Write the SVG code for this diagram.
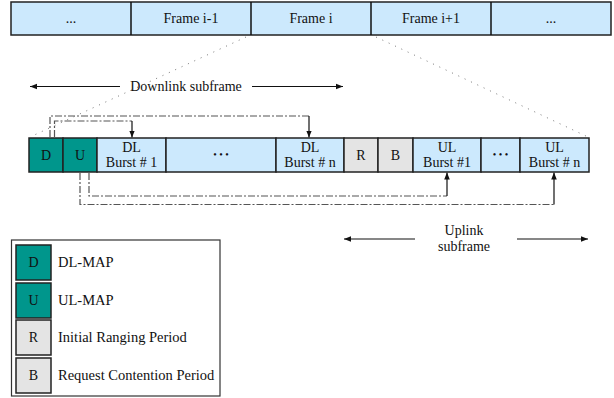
<svg xmlns="http://www.w3.org/2000/svg" width="614" height="398" viewBox="0 0 614 398">
<defs>
<style>
text{font-family:"Liberation Serif","Times New Roman",serif;font-size:14px;fill:#111;text-anchor:middle}
.blue{fill:#cce9fd;stroke:#222;stroke-width:1.5}
.teal{fill:#00968c;stroke:#222;stroke-width:1.5}
.grey{fill:#e4e4e4;stroke:#222;stroke-width:1.5}
.dd{fill:none;stroke:#555;stroke-width:1.2;stroke-dasharray:7,2,2,2}
.dot{fill:none;stroke:#777;stroke-width:1;stroke-dasharray:1,6}
.ln{fill:none;stroke:#111;stroke-width:1.2}
.lt{text-anchor:start}
.big{font-size:14.5px}
.bul{font-size:10px}
</style>
<marker id="ah" viewBox="0 0 10 10" refX="10" refY="5" markerWidth="7" markerHeight="7" orient="auto-start-reverse" markerUnits="userSpaceOnUse">
<path d="M0,1 L10,5 L0,9 z" fill="#111"/>
</marker>
</defs>

<g id="frames">
<rect class="blue" x="11" y="2" width="600" height="33"/>
<line class="ln" x1="131" y1="2" x2="131" y2="35" style="stroke-width:1.5"/>
<line class="ln" x1="251" y1="2" x2="251" y2="35" style="stroke-width:1.5"/>
<line class="ln" x1="371" y1="2" x2="371" y2="35" style="stroke-width:1.5"/>
<line class="ln" x1="491" y1="2" x2="491" y2="35" style="stroke-width:1.5"/>
<text x="71" y="23">...</text>
<text x="191" y="23">Frame i-1</text>
<text x="311" y="23">Frame i</text>
<text x="431" y="23">Frame i+1</text>
<text x="551" y="23">...</text>
</g>

<g id="connectors">
<line class="dot" x1="246" y1="37" x2="30" y2="137"/>
<line class="dot" x1="376" y1="37" x2="588" y2="137"/>
<line class="ln" x1="120" y1="86.5" x2="30" y2="86.5" marker-end="url(#ah)"/>
<line class="ln" x1="252" y1="86.5" x2="343" y2="86.5" marker-end="url(#ah)"/>
<line class="ln" x1="415" y1="239" x2="344" y2="239" marker-end="url(#ah)"/>
<line class="ln" x1="517" y1="239" x2="588" y2="239" marker-end="url(#ah)"/>
<polyline class="dd" points="50,137 50,116 309,116"/>
<line class="ln" x1="309" y1="116" x2="309" y2="137.5" marker-end="url(#ah)"/>
<polyline class="dd" points="54.5,137 54.5,121 132,121"/>
<line class="ln" x1="132" y1="121" x2="132" y2="137.5" marker-end="url(#ah)"/>
<polyline class="dd" points="89,173 89,196 447,196"/>
<line class="ln" x1="447" y1="196" x2="447" y2="172.5" marker-end="url(#ah)"/>
<polyline class="dd" points="80,173 80,204.5 554,204.5"/>
<line class="ln" x1="554" y1="204.5" x2="554" y2="172.5" marker-end="url(#ah)"/>
</g>

<g id="labels">
<text x="186" y="91">Downlink subframe</text>
<text x="464" y="235">Uplink</text>
<text x="464" y="251">subframe</text>
</g>

<g id="node-D"><rect class="teal" x="29" y="138" width="34" height="34"/><text x="46" y="160">D</text></g>
<g id="node-U"><rect class="teal" x="63" y="138" width="34" height="34"/><text x="80" y="160">U</text></g>
<g id="node-DL1"><rect class="blue" x="97" y="138" width="69" height="34"/><text x="131.5" y="152">DL</text><text x="131.5" y="167">Burst # 1</text></g>
<g id="node-DLdots"><rect class="blue" x="166" y="138" width="110" height="34"/><text class="bul" x="221" y="158">• • •</text></g>
<g id="node-DLn"><rect class="blue" x="276" y="138" width="68" height="34"/><text x="310" y="152">DL</text><text x="310" y="167">Burst # n</text></g>
<g id="node-R"><rect class="grey" x="344" y="138" width="34" height="34"/><text x="361" y="160">R</text></g>
<g id="node-B"><rect class="grey" x="378" y="138" width="35" height="34"/><text x="395.5" y="160">B</text></g>
<g id="node-UL1"><rect class="blue" x="413" y="138" width="68" height="34"/><text x="447" y="152">UL</text><text x="447" y="167">Burst #1</text></g>
<g id="node-ULdots"><rect class="blue" x="481" y="138" width="39" height="34"/><text class="bul" x="500.5" y="158">• • •</text></g>
<g id="node-ULn"><rect class="blue" x="520" y="138" width="69" height="34"/><text x="554.5" y="152">UL</text><text x="554.5" y="167">Burst # n</text></g>

<g id="legend">
<rect x="11.5" y="240" width="208.5" height="156" fill="#fff" stroke="#333" stroke-width="1.2"/>
<g id="leg-D"><rect class="teal" x="16" y="245" width="35" height="35"/><text x="33.5" y="267">D</text><text class="lt big" x="58" y="267">DL-MAP</text></g>
<g id="leg-U"><rect class="teal" x="16" y="283" width="35" height="35"/><text x="33.5" y="305">U</text><text class="lt big" x="58" y="305">UL-MAP</text></g>
<g id="leg-R"><rect class="grey" x="16" y="320" width="35" height="35"/><text x="33.5" y="342">R</text><text class="lt big" x="58" y="342">Initial Ranging Period</text></g>
<g id="leg-B"><rect class="grey" x="16" y="358" width="35" height="35"/><text x="33.5" y="380">B</text><text class="lt big" x="58" y="380">Request Contention Period</text></g>
</g>
</svg>
